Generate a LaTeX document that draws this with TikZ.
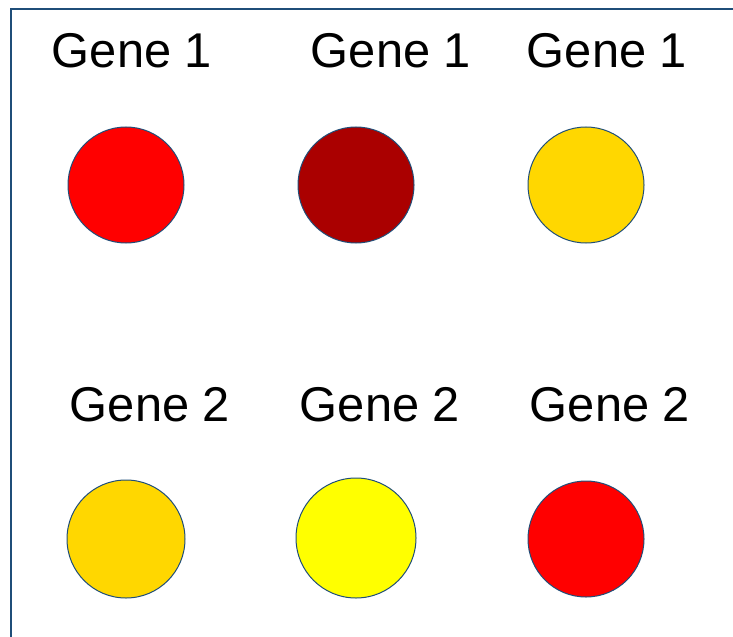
\documentclass[tikz,border=0pt]{standalone}
\usepackage{fontspec}
\setmainfont{Liberation Sans}
\definecolor{edgeblue}{HTML}{1F4E79}
\definecolor{dkred}{HTML}{AA0000}
\definecolor{gold}{HTML}{FFD700}
\definecolor{pureyellow}{HTML}{FFFF00}
\definecolor{purered}{HTML}{FF0000}
\begin{document}
\begin{tikzpicture}[x=1bp,y=-1bp,
  dot/.style={circle,draw=edgeblue,line width=1bp,inner sep=0pt,minimum size=116bp},
  lbl/.style={anchor=base,inner sep=0pt,font=\fontsize{49}{58}\selectfont}]
\useasboundingbox (0,0) rectangle (733,637);
\draw[edgeblue,line width=1.5bp] (11,640) -- (11,9) -- (736,9);
\node[lbl] (t11) at (132,68) {Gene 1};
\node[lbl] (t12) at (391,68) {Gene 1};
\node[lbl] (t13) at (607,68) {Gene 1};
\node[lbl] (t21) at (150,421) {Gene 2};
\node[lbl] (t22) at (380,421) {Gene 2};
\node[lbl] (t23) at (610,421) {Gene 2};
\node[dot,fill=purered] (c11) at (126,185) {};
\node[dot,fill=dkred] (c12) at (356,185) {};
\node[dot,fill=gold] (c13) at (586,185) {};
\node[dot,fill=gold,minimum size=118bp] (c21) at (126,539) {};
\node[dot,fill=pureyellow,minimum size=120bp] (c22) at (356,538) {};
\node[dot,fill=purered] (c23) at (586,539) {};
\end{tikzpicture}
\end{document}
